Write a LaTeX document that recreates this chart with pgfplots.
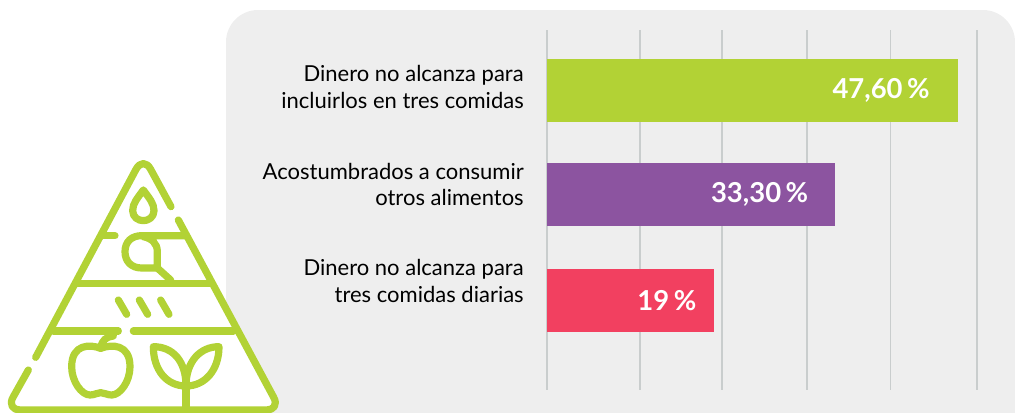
\documentclass[border=0pt]{standalone}
\usepackage{fontspec}
\setmainfont{Lato}
\usepackage{pgfplots}
\pgfplotsset{compat=1.18}
\definecolor{panel}{HTML}{EEEEEE}
\definecolor{gridc}{HTML}{C9CDCD}
\definecolor{greenb}{HTML}{B2D235}
\definecolor{purpleb}{HTML}{8C54A0}
\definecolor{redb}{HTML}{F24060}
\begin{document}
\begin{tikzpicture}
\path[use as bounding box] (0,0) rectangle (761.25pt,309pt);
\begin{scope}
\clip (0,0) rectangle (761.25pt,309pt);
\fill[panel,rounded corners=24pt] (169.5pt,-40pt) rectangle (761.25pt,301.5pt);
\begin{scope}[shift={(0,204pt)},x=0.25pt,y=-0.25pt,line cap=round,line join=round,line width=5.4pt,draw=greenb]
 \fill[white] (430,70) -- (35,790) -- (40,815) -- (820,815) -- (825,790) -- cycle;
 \draw (513,200) -- (452,88) .. controls (440,65) and (420,65) .. (408,88) -- (107,652);
 \draw (85,690) -- (40,770) .. controls (25,795) and (40,810) .. (60,810) -- (800,810) .. controls (820,810) and (835,795) .. (820,770) -- (535,240);
 \draw (310,287) -- (345,287);
 \draw (555,287) -- (425,287) .. controls (395,287) and (375,305) .. (375,335) .. controls (375,365) and (395,384) .. (425,384) -- (472,384) -- (472,335) .. controls (472,310) and (455,295) .. (430,290);
 \draw (472,384) -- (512,420);
 \draw (232,430) -- (628,430);
 \draw (160,573) -- (355,573);
 \draw (400,573) -- (700,573);
 \draw (355,480) -- (380,523);
 \draw (418,480) -- (443,523);
 \draw (482,480) -- (507,523);
 \draw (430,150) .. controls (412,175) and (398,190) .. (398,212) .. controls (398,232) and (415,242) .. (430,242) .. controls (445,242) and (462,232) .. (462,212) .. controls (462,190) and (448,175) .. (430,150) -- cycle;
 \draw (302,625) .. controls (270,612) and (215,612) .. (215,680) .. controls (215,725) and (245,765) .. (270,765) .. controls (285,765) and (290,758) .. (302,758) .. controls (314,758) and (320,765) .. (335,765) .. controls (360,765) and (390,725) .. (390,680) .. controls (390,612) and (335,612) .. (302,625) -- cycle;
 \draw (302,625) .. controls (305,600) and (320,590) .. (340,588);
 \draw (558,810) -- (558,700);
 \draw (460,620) .. controls (520,620) and (558,665) .. (558,738) .. controls (500,738) and (460,690) .. (460,620) -- cycle;
 \draw (657,620) .. controls (600,620) and (558,665) .. (558,738) .. controls (615,738) and (657,690) .. (657,620) -- cycle;
\end{scope}
\end{scope}
\begin{axis}[
  at={(410.25pt,16.5pt)},anchor=south west,
  scale only axis,width=322.5pt,height=270pt,
  xmin=0,xmax=49.8,ymin=-0.576,ymax=2.852,y dir=reverse,
  axis line style={draw=none},
  major tick length=0pt,
  xtick={0,10.77,20.27,30.11,39.73,49.8},xticklabels={},
  xmajorgrids,grid style={gridc,line width=0.8pt},
  ytick={-0.033,0.895,1.814},
  yticklabels={{Dinero no alcanza para\\incluirlos en tres comidas},{Acostumbrados a consumir\\otros alimentos},{Dinero no alcanza para\\tres comidas diarias}},
  y tick label style={align=right,anchor=east,inner sep=0pt,xshift=-17.25pt,font=\fontsize{16.5}{20}\selectfont,text=black},
  xbar,bar shift=0pt,bar width=47.25pt,
  point meta=explicit symbolic,
  nodes near coords={\pgfplotspointmeta},
  nodes near coords style={anchor=east,inner sep=0pt,text=white,font=\fontsize{20.6}{24}\bfseries\selectfont},
]
\addplot[fill=greenb,draw=none,nodes near coords style={xshift=-21pt}] coordinates {(47.6,0) [47,60\,\%]};
\addplot[fill=purpleb,draw=none,nodes near coords style={xshift=-19.5pt}] coordinates {(33.3,0.99) [33,30\,\%]};
\addplot[fill=redb,draw=none,nodes near coords style={xshift=-12.75pt}] coordinates {(19.3,2) [19\,\%]};
\end{axis}
\end{tikzpicture}
\end{document}
